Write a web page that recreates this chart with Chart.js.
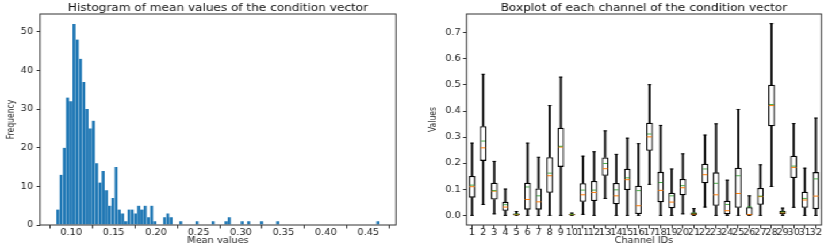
<!DOCTYPE html>
<html><head><meta charset="utf-8">
<script src="https://cdn.jsdelivr.net/npm/chart.js@4.4.0/dist/chart.umd.min.js"></script>
<style>
html,body{margin:0;padding:0;background:#fff;overflow:hidden;width:830px;height:249px;}
#wrap{position:absolute;left:0;top:0;width:722px;height:249px;transform:scaleX(1.15);transform-origin:0 0;}
#c1{position:absolute;left:0;top:0;}
#c2{position:absolute;left:370px;top:0;}
</style></head><body>
<div id="wrap"><canvas id="c1" width="370" height="249"></canvas><canvas id="c2" width="352" height="249"></canvas></div>
<script>
// ---------- Histogram data ----------
const histBinStart = 0.0824;
const histBinWidth = 0.00381;
const histCounts = [
  4,13,20,33,32,52,48,43,37,30,
  25,27,16,11,14,9,5,7,15,4,
  3,1,4,4,3,5,4,5,2,5,
  1,0,0,2,3,2,0,0,1,0,
  0,0,0,1,0,0,0,0,1,0,
  0,0,1,2,0,0,0,1,0,1,
  0,0,0,1,0,0,0,0,1,0,
  0,0,0,0,0,0,0,0,0,0,
  0,0,0,0,0,0,0,0,0,0,
  0,0,0,0,0,0,0,0,0,1
];
const histXTicks = [0.10,0.15,0.20,0.25,0.30,0.35,0.40,0.45];
const histYTicks = [0,10,20,30,40,50];

// ---------- Boxplot data ----------
const channelIds = ['1','2','3','4','5','6','7','8','9','10','11','12','13','14','15','16',
                    '17','18','19','20','21','22','23','24','25','26','27','28','29','30','31','32'];
const whiskerLow = [0,0.042,0.006,0,0,0,0,0,0,0,0.004,0,0.065,0,0,0,
                    0.119,0,0,0.006,0,0.032,0,0,0,0,0,0.111,0,0.031,0,0];
const q1 =         [0.068,0.209,0.061,0.018,0.0005,0.022,0.022,0.087,0.186,0.0005,0.052,0.055,0.152,0.043,0.097,0.005,
                    0.248,0.050,0.027,0.077,0.001,0.123,0.037,0.004,0.029,0.0005,0.041,0.342,0.005,0.143,0.029,0.024];
const median =     [0.110,0.259,0.093,0.032,0.003,0.061,0.052,0.152,0.262,0.003,0.079,0.088,0.179,0.075,0.137,0.037,
                    0.301,0.096,0.051,0.106,0.005,0.156,0.079,0.018,0.084,0.003,0.072,0.421,0.010,0.184,0.059,0.074];
const mean =       [0.116,0.285,0.095,0.041,0.005,0.109,0.075,0.162,0.265,0.004,0.097,0.097,0.199,0.098,0.144,0.095,
                    0.312,0.126,0.075,0.114,0.009,0.178,0.123,0.042,0.152,0.033,0.074,0.425,0.013,0.189,0.065,0.140];
const q3 =         [0.151,0.342,0.125,0.052,0.007,0.125,0.103,0.223,0.336,0.005,0.123,0.132,0.222,0.124,0.179,0.114,
                    0.355,0.167,0.087,0.140,0.011,0.198,0.165,0.056,0.183,0.031,0.105,0.501,0.017,0.229,0.091,0.166];
const whiskerHigh =[0.277,0.541,0.207,0.101,0.015,0.277,0.223,0.421,0.530,0.009,0.227,0.244,0.324,0.234,0.296,0.275,
                    0.501,0.345,0.178,0.236,0.026,0.308,0.351,0.135,0.406,0.075,0.194,0.735,0.028,0.352,0.181,0.373];
const boxYTicks = [0.0,0.1,0.2,0.3,0.4,0.5,0.6,0.7];

// ---------- shared styling ----------
const tickFont = {family:"'DejaVu Sans'", size:8.5};
const labelFont = {family:"'DejaVu Sans'", size:8.5};
const condFont = {family:"'DejaVu Sans Condensed','Liberation Sans Narrow','DejaVu Sans'", size:8.5};
const inkColor = '#222';
const spineColor = '#333';

const frameTitle = {
  id: 'frameTitle',
  afterDraw(chart, args, opts) {
    const ctx = chart.ctx, a = chart.chartArea;
    ctx.save();
    ctx.strokeStyle = spineColor;
    ctx.lineWidth = 1;
    ctx.strokeRect(a.left, a.top, a.right - a.left, a.bottom - a.top);
    ctx.fillStyle = '#111';
    ctx.font = "10.5px 'DejaVu Sans'";
    ctx.textAlign = 'center';
    ctx.textBaseline = 'middle';
    ctx.fillText(opts.text, (a.left + a.right) / 2, 8);
    ctx.restore();
  }
};

function axisCommon(extra) {
  return Object.assign({
    border: {display: false},
    grid: {drawOnChartArea: false, tickColor: spineColor, tickWidth: 1}
  }, extra);
}

// ---------- Histogram ----------
new Chart(document.getElementById('c1'), {
  type: 'bar',
  data: {
    datasets: [{
      data: histCounts.map((c, i) => ({x: histBinStart + (i + 0.5) * histBinWidth, y: c})),
      backgroundColor: '#1f77b4',
      borderColor: 'rgba(255,255,255,0.3)',
      borderWidth: {left: 0.4, right: 0.4, top: 0, bottom: 0},
      borderSkipped: false,
      barPercentage: 1,
      categoryPercentage: 1
    }]
  },
  options: {
    responsive: false, animation: false, devicePixelRatio: 1,
    layout: {padding: {top: 14, right: 25.7, left: 0, bottom: 0}},
    plugins: {legend: {display: false}, tooltip: {enabled: false},
              frameTitle: {text: 'Histogram of mean values of the condition vector'}},
    scales: {
      x: axisCommon({
        type: 'linear', offset: false, min: 0.0633, max: 0.4826,
        afterBuildTicks: s => { s.ticks = histXTicks.map(v => ({value: v})); },
        ticks: {callback: v => Number(v).toFixed(2), font: tickFont, color: inkColor, padding: -1, maxRotation: 0, autoSkip: false},
        grid: {drawOnChartArea: false, tickLength: 3.5, tickColor: spineColor},
        title: {display: true, text: 'Mean values', font: labelFont, color: inkColor, padding: {top: 0, bottom: 3}},
        afterFit: s => { s.height = 24; }
      }),
      y: axisCommon({
        min: 0, max: 54.6,
        afterBuildTicks: s => { s.ticks = histYTicks.map(v => ({value: v})); },
        ticks: {callback: v => String(v), font: tickFont, color: inkColor, padding: 3},
        grid: {drawOnChartArea: false, tickLength: 3, tickColor: spineColor},
        title: {display: true, text: 'Frequency', font: condFont, color: inkColor, padding: {top: 4.5, bottom: 0}},
        afterFit: s => { s.width = 34.8; }
      })
    }
  },
  plugins: [frameTitle]
});

// ---------- Boxplot ----------
const pairs = (a, b) => a.map((v, i) => [v, b[i]]);
new Chart(document.getElementById('c2'), {
  type: 'bar',
  data: {
    labels: channelIds,
    datasets: [
      {type: 'bar', data: pairs(whiskerLow, q1), backgroundColor: '#111', barThickness: 1.3, grouped: false, order: 6},
      {type: 'bar', data: pairs(q3, whiskerHigh), backgroundColor: '#111', barThickness: 1.3, grouped: false, order: 6},
      {type: 'bar', data: pairs(q1, q3), backgroundColor: '#fff', borderColor: '#000', borderWidth: 1.3,
       borderSkipped: false, barPercentage: 0.6, categoryPercentage: 1, grouped: false, order: 5},
      {type: 'line', data: whiskerLow, showLine: false, pointStyle: 'line', pointRadius: 1.5,
       pointBorderColor: '#000', pointBorderWidth: 1, order: 3},
      {type: 'line', data: whiskerHigh, showLine: false, pointStyle: 'line', pointRadius: 1.5,
       pointBorderColor: '#000', pointBorderWidth: 1, order: 3},
      {type: 'line', data: median, showLine: false, pointStyle: 'line', pointRadius: 2.2,
       pointBorderColor: '#ff7f0e', pointBorderWidth: 1, order: 2},
      {type: 'line', data: mean, showLine: false, pointStyle: 'line', pointRadius: 1.8,
       pointBorderColor: 'rgba(44,160,44,0.85)', pointBorderWidth: 1, order: 1}
    ]
  },
  options: {
    responsive: false, animation: false, devicePixelRatio: 1,
    layout: {padding: {top: 14, right: 7.7, left: 0, bottom: 0}},
    plugins: {legend: {display: false}, tooltip: {enabled: false},
              frameTitle: {text: 'Boxplot of each channel of the condition vector'}},
    scales: {
      x: axisCommon({
        type: 'category', offset: true,
        ticks: {font: tickFont, color: inkColor, padding: -1, maxRotation: 0, minRotation: 0, autoSkip: false},
        grid: {drawOnChartArea: false, offset: false, tickLength: 3.5, tickColor: spineColor},
        title: {display: true, text: 'Channel IDs', font: labelFont, color: inkColor, padding: {top: 0, bottom: 3}},
        afterFit: s => { s.height = 24; }
      }),
      y: axisCommon({
        min: -0.0368, max: 0.772,
        afterBuildTicks: s => { s.ticks = boxYTicks.map(v => ({value: v})); },
        ticks: {callback: v => Number(v).toFixed(1), font: tickFont, color: inkColor, padding: 2},
        grid: {drawOnChartArea: false, tickLength: 3, tickColor: spineColor},
        title: {display: true, text: 'Values', font: condFont, color: inkColor, padding: {top: 1.9, bottom: 0}},
        afterFit: s => { s.width = 35.7; }
      })
    }
  },
  plugins: [frameTitle]
});
</script>
</body></html>
